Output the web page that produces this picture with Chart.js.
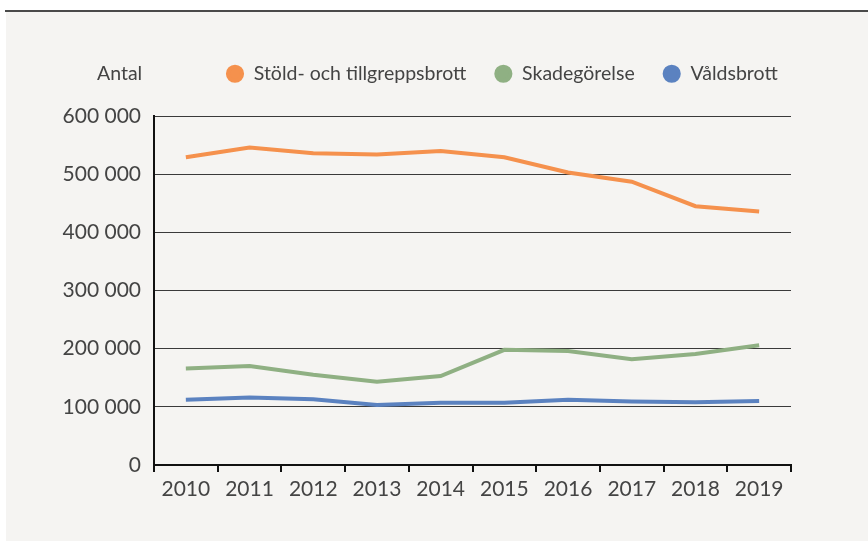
<!DOCTYPE html>
<html>
<head>
<meta charset="utf-8">
<script src="https://cdn.jsdelivr.net/npm/chart.js@4/dist/chart.umd.min.js"></script>
<style>
  html, body { margin: 0; padding: 0; background: #fff; }
  #wrap { position: relative; width: 868px; height: 541px; overflow: hidden; }
  #rule { position: absolute; left: 5px; top: 10px; width: 863px; height: 2px; background: #4a4a4a; }
  #panel { position: absolute; left: 6px; top: 12px; width: 862px; height: 529px; background: #f5f4f2; }
  #myChart { position: absolute; left: 0; top: 0; }
</style>
</head>
<body>
<div id="wrap">
  <div id="rule"></div>
  <div id="panel"></div>
  <canvas id="myChart" width="868" height="541"></canvas>
</div>
<script>
const years = ['2010', '2011', '2012', '2013', '2014', '2015', '2016', '2017', '2018', '2019'];
const stold = [529000, 546000, 536000, 534000, 540000, 529000, 503000, 487000, 445000, 436000];
const skade = [166000, 170000, 155000, 143000, 153000, 198000, 196000, 182000, 191000, 206000];
const vald = [112000, 116000, 113000, 103000, 107000, 107000, 112000, 109000, 108000, 110000];
const seriesNames = ['Stöld- och tillgreppsbrott', 'Skadegörelse', 'Våldsbrott'];
const yTicks = [0, 100000, 200000, 300000, 400000, 500000, 600000];

const textColor = '#444';
const legendSize = 19.5;

// legend: fixed height, moved to line up with the reference
const legendTweak = {
    id: 'legendTweak',
    beforeInit(chart) {
        const fit = chart.legend.fit;
        chart.legend.fit = function () {
            fit.bind(chart.legend)();
            this.height = 80;
        };
    },
    afterLayout(chart) {
        const lg = chart.legend;
        const w = lg.right - lg.left;
        lg.left = 198;
        lg.right = 198 + w;
    },
    afterDraw(chart) {
        const ctx = chart.ctx;
        ctx.save();
        ctx.font = legendSize + 'px Lato';
        ctx.fillStyle = textColor;
        ctx.textBaseline = 'middle';
        ctx.textAlign = 'left';
        ctx.fillText('Antal', chart.chartArea.left - 57, chart.legend.top + 28 + legendSize / 2);
        ctx.restore();
    }
};

const ctx = document.getElementById('myChart');

const chart = new Chart(ctx, {
    type: 'line',
    data: {
        labels: years,
        datasets: [
            { label: seriesNames[0], data: stold, borderColor: '#f5914d', backgroundColor: '#f5914d' },
            { label: seriesNames[1], data: skade, borderColor: '#8fb083', backgroundColor: '#8fb083' },
            { label: seriesNames[2], data: vald, borderColor: '#5b82c0', backgroundColor: '#5b82c0' },
        ].map(d => Object.assign(d, { borderWidth: 4, pointRadius: 0, tension: 0, fill: false })),
    },
    options: {
        responsive: false,
        animation: false,
        layout: { padding: { top: 36, right: 77, bottom: 0, left: 0 } },
        plugins: {
            legend: {
                position: 'top',
                align: 'start',
                labels: {
                    usePointStyle: true,
                    pointStyle: 'circle',
                    boxWidth: 18,
                    boxHeight: 10,
                    padding: 28,
                    color: textColor,
                    font: { family: 'Lato', size: legendSize },
                },
            },
            tooltip: { enabled: false },
        },
        scales: {
            x: {
                offset: true,
                grid: {
                    offset: true,
                    drawOnChartArea: false,
                    drawTicks: true,
                    tickLength: 7,
                    color: '#111',
                    lineWidth: 2,
                },
                border: { color: '#111', width: 2 },
                ticks: { color: textColor, font: { family: 'Lato', size: 21 }, padding: 5, maxRotation: 0 },
                afterFit(scale) { scale.height = 76; },
            },
            y: {
                min: 0,
                max: 600000,
                afterBuildTicks(scale) { scale.ticks = yTicks.map(v => ({ value: v })); },
                grid: { drawTicks: false, color: '#3a3a3a', lineWidth: 1 },
                border: { color: '#111', width: 2 },
                ticks: {
                    color: textColor,
                    font: { family: 'Lato', size: 21 },
                    padding: 13,
                    callback: v => String(v).replace(/\B(?=(\d{3})+(?!\d))/g, ' '),
                },
                afterFit(scale) { scale.width = 154; },
            },
        },
    },
    plugins: [legendTweak],
});
</script>
</body>
</html>
